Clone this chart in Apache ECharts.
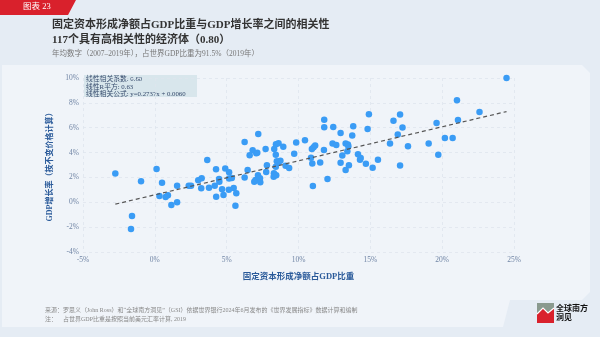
<!DOCTYPE html>
<html>
<head>
<meta charset="utf-8">
<script src="https://cdn.jsdelivr.net/npm/echarts@6/dist/echarts.min.js"></script>
<style>html,body{margin:0;padding:0;background:#e5ecf4;}#c{width:600px;height:337px;}</style>
</head>
<body>
<div id="c"></div>
<script>
// Data: [fixed capital formation net % of GDP, GDP growth %]
const xValues = [-2.75,0.12,-0.96,0.5,-1.59,-1.66,0.32,0.75,0.91,1.15,1.55,1.55,2.36,2.52,3.02,3.26,3.65,3.23,3.77,4.17,4.26,4.47,4.49,4.68,4.27,4.78,4.90,5.17,5.17,5.15,
5.36,5.49,5.67,5.61,6.25,6.46,6.25,6.60,6.81,7.06,7.13,7.20,6.92,7.01,7.18,7.32,7.34,7.71,7.75,7.80,8.31,8.43,8.61,8.42,8.49,8.60,8.74,8.42,8.29,8.36,8.27,8.45,8.94,9.10,9.35,9.70,9.84,10.45,10.87,10.96,11.00,10.93,11.05,11.16,11.51,11.77,11.79,11.79,12.02,12.37,12.42,
12.63,12.93,12.93,13.05,13.28,13.44,13.47,13.40,13.28,13.51,13.74,13.81,14.14,14.28,14.33,14.69,14.81,14.90,15.16,15.53,16.37,16.61,16.91,17.07,17.24,17.07,17.62,19.06,
24.48,21.03,22.60,21.10,19.61,20.19,20.73,19.73];
const yValues = [2.31,2.67,1.69,1.58,-1.10,-2.15,0.51,0.43,0.56,-0.22,0.00,1.33,1.33,1.33,1.77,1.93,3.40,1.12,1.17,1.33,2.65,1.87,1.66,1.05,0.45,0.59,2.71,2.42,1.92,1.01,
1.95,1.15,0.72,-0.27,4.85,2.60,2.00,3.78,4.18,3.94,3.98,5.49,1.66,1.79,2.17,1.93,1.61,4.29,2.44,2.98,4.29,4.67,4.75,3.83,3.30,3.19,3.35,2.86,2.33,2.19,2.06,2.17,4.46,2.93,2.75,3.90,4.81,5.00,3.58,3.13,1.31,4.29,4.43,4.56,3.21,4.20,6.65,6.03,1.87,4.72,6.06,
4.61,5.58,3.18,3.77,4.72,4.64,4.50,4.10,2.60,2.98,5.37,6.12,3.86,3.43,3.56,3.10,5.90,7.08,2.78,3.43,4.72,6.57,5.45,7.06,6.01,2.95,4.50,4.72,
10.00,8.20,7.26,6.62,6.38,5.17,5.17,3.83];
const slope = 0.2737, intercept = 0.0060; // fraction form
const statLines = ['线性相关系数: 0.80','线性R平方: 0.63','线性相关公式: y=0.2737x + 0.0060'];
const xTicks = {min:-5, max:25, interval:5};
const yTicks = {min:-4, max:10, interval:2};

const points = xValues.map((x,i)=>[x,yValues[i]]);
const xmin = Math.min(...xValues), xmax = Math.max(...xValues);
const fit = [[xmin, slope*xmin + intercept*100],[xmax, slope*xmax + intercept*100]];

const FF = '"Liberation Serif","Noto Sans CJK SC",serif';
const chart = echarts.init(document.getElementById('c'));
chart.setOption({
  backgroundColor:'#e5ecf4',
  animation:false,
  graphic:[
    {type:'polygon', z:-10, silent:true, shape:{points:[[2,65],[582,65],[590,73],[590,292],[582,300],[510,300],[503,327],[2,327]]}, style:{fill:'#f0f4f9'}},
    {type:'polygon', z:10, shape:{points:[[0,0],[76,0],[68,15],[0,15]]}, style:{fill:'#d9212c'}},
    {type:'text', z:20, left:23, top:3, style:{text:'图表 23', fill:'#ffffff', font:'8.5px '+FF}},
    {type:'text', left:52, top:20, style:{text:'固定资本形成净额占GDP比重与GDP增长率之间的相关性', fill:'#333333', font:'bold 11px '+FF}},
    {type:'text', left:52, top:35, style:{text:'117个具有高相关性的经济体（0.80）', fill:'#333333', font:'bold 11px '+FF}},
    {type:'text', left:52, top:50, style:{text:'年均数字（2007–2019年），占世界GDP比重为91.5%（2019年）', fill:'#777777', font:'7.5px '+FF}},
    {type:'rect', left:84, top:75, shape:{width:113, height:22}, style:{fill:'#d8e6ec'}},
    {type:'text', left:86, top:76, style:{text:statLines.join('\n'), fill:'#33486a', font:'6.8px '+FF, lineHeight:7.3}},
    {type:'text', left:45, top:307, style:{text:'来源：罗思义（John Ross）和“全球南方洞见”（GSI）依据世界银行2024年6月发布的《世界发展指标》数据计算和编制', fill:'#888888', font:'6px '+FF}},
    {type:'text', left:45, top:316, style:{text:'注：    占世界GDP比重是按照当前美元汇率计算, 2019', fill:'#888888', font:'6px '+FF}},
    {type:'rect', left:537, top:303, shape:{width:17, height:20}, style:{fill:'#d9212c'}},
    {type:'polygon', shape:{points:[[537,303],[554,303],[554,308],[548,313],[543,308],[537,314]]}, style:{fill:'#8a9a8f'}},
    {type:'polyline', shape:{points:[[537,314],[543,308],[548,313],[554,308]]}, style:{stroke:'#ffffff', lineWidth:1.2, fill:null}},
    {type:'text', left:556, top:303, style:{text:'全球南方\n洞见', fill:'#111111', font:'bold 8px "Noto Sans CJK SC"', lineHeight:9.5}}
  ],
  grid:{left:83, right:86, top:78, bottom:85},
  xAxis:{
    type:'value', min:xTicks.min, max:xTicks.max, interval:xTicks.interval,
    name:'固定资本形成净额占GDP比重', nameLocation:'middle', nameGap:21,
    nameTextStyle:{color:'#2a5a9a', fontWeight:'bold', fontSize:8.5, fontFamily:FF},
    axisLine:{show:false}, axisTick:{show:false},
    axisLabel:{formatter:'{value}%', color:'#7085a5', fontSize:7.5, fontFamily:FF, margin:4},
    splitLine:{lineStyle:{color:'#dfe5ee', type:[3,3], width:0.8}}
  },
  yAxis:{
    type:'value', min:yTicks.min, max:yTicks.max, interval:yTicks.interval,
    name:'GDP增长率（按不变价格计算）', nameLocation:'middle', nameGap:25, nameRotate:90,
    nameTextStyle:{color:'#2a5a9a', fontWeight:'bold', fontSize:8, fontFamily:FF},
    axisLine:{show:false}, axisTick:{show:false},
    axisLabel:{formatter:'{value}%', color:'#7085a5', fontSize:7.5, fontFamily:FF, margin:4},
    splitLine:{lineStyle:{color:'#dfe5ee', type:[3,3], width:0.8}}
  },
  series:[
    {type:'scatter', data:points, symbolSize:6.5, itemStyle:{color:'#3a9cf5', opacity:1}, z:3},
    {type:'line', data:fit, symbol:'none', lineStyle:{color:'#555555', width:1.2, type:[4,3]}, z:4}
  ]
});
</script>
</body>
</html>
